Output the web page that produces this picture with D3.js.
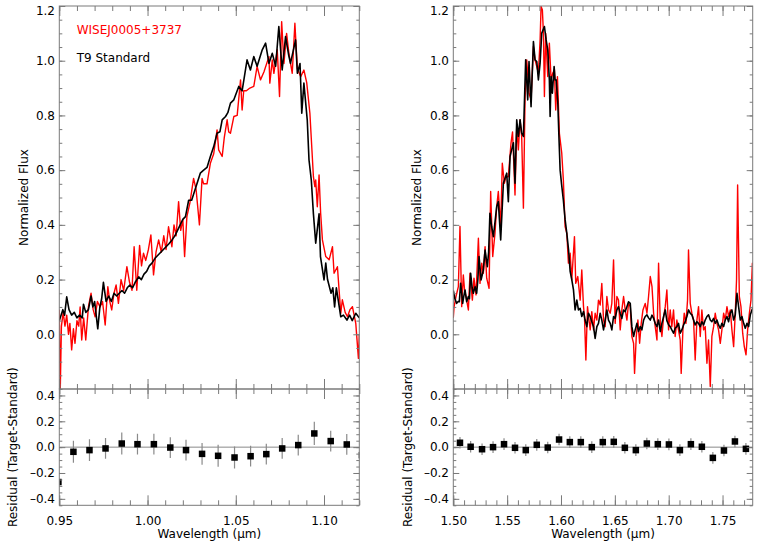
<!DOCTYPE html>
<html>
<head>
<meta charset="utf-8">
<script src="https://cdn.jsdelivr.net/npm/d3@7"></script>
<style>
  body { margin: 0; background: #fff; }
</style>
</head>
<body>
<svg id="chart" width="761" height="548"></svg>
<script>
// Spectra: [wavelength (micron), normalized flux]
const leftTarget = [[0.9500,0.09],[0.9505,-0.22],[0.9512,0.03],[0.9522,0.08],[0.9532,0.03],[0.9542,0.07],[0.9552,0.00],[0.9560,0.04],[0.9570,-0.057],[0.9580,0.02],[0.9589,-0.033],[0.9600,0.05],[0.9610,0.03],[0.9618,0.10],[0.9627,-0.021],[0.9638,0.06],[0.9650,-0.021],[0.9665,0.10],[0.9680,0.15],[0.9692,0.09],[0.9703,0.064],[0.9716,0.12],[0.9731,0.10],[0.9745,0.12],[0.9760,0.034],[0.9775,0.174],[0.9786,0.12],[0.9797,0.089],[0.9810,0.15],[0.9822,0.18],[0.9835,0.113],[0.9850,0.20],[0.9865,0.16],[0.9883,0.247],[0.9898,0.19],[0.9912,0.161],[0.9924,0.32],[0.9939,0.161],[0.9955,0.325],[0.9966,0.25],[0.9977,0.296],[0.9990,0.27],[1.0005,0.31],[1.0019,0.363],[1.0034,0.217],[1.0048,0.30],[1.0063,0.345],[1.0078,0.30],[1.0092,0.36],[1.0105,0.31],[1.0119,0.393],[1.0138,0.32],[1.0150,0.40],[1.0162,0.36],[1.0176,0.485],[1.0188,0.38],[1.0200,0.42],[1.0210,0.284],[1.0223,0.43],[1.0240,0.48],[1.0261,0.57],[1.0275,0.53],[1.0294,0.40],[1.0309,0.57],[1.0318,0.55],[1.0337,0.55],[1.0356,0.625],[1.0375,0.66],[1.0394,0.747],[1.0403,0.674],[1.0423,0.65],[1.0435,0.72],[1.0451,0.784],[1.0460,0.74],[1.0470,0.735],[1.0489,0.796],[1.0508,0.80],[1.0527,0.93],[1.0536,0.82],[1.0545,0.89],[1.0560,0.89],[1.0580,0.90],[1.0602,0.906],[1.0621,0.979],[1.0640,0.93],[1.0660,0.96],[1.0688,1.015],[1.0693,0.918],[1.0707,1.003],[1.0716,0.954],[1.0735,1.04],[1.0748,0.869],[1.0760,1.143],[1.0773,0.99],[1.0788,1.10],[1.0801,1.027],[1.0820,0.954],[1.0835,1.137],[1.0849,0.97],[1.0868,0.942],[1.0886,0.966],[1.0902,0.92],[1.0920,0.808],[1.0940,0.576],[1.0948,0.54],[1.0953,0.564],[1.0962,0.466],[1.0972,0.582],[1.0981,0.442],[1.0991,0.345],[1.1010,0.284],[1.1029,0.272],[1.1048,0.32],[1.1057,0.223],[1.1076,0.247],[1.1095,0.077],[1.1104,0.126],[1.1120,0.08],[1.1133,0.064],[1.1147,0.09],[1.1161,0.101],[1.1180,0.04],[1.1195,-0.088],[1.1200,0.00]];

const leftStandard = [[0.9500,0.05],[0.9510,0.07],[0.9520,0.09],[0.9530,0.07],[0.9542,0.137],[0.9555,0.09],[0.9570,0.07],[0.9585,0.08],[0.9600,0.06],[0.9615,0.07],[0.9630,0.06],[0.9637,0.11],[0.9650,0.08],[0.9665,0.09],[0.9680,0.14],[0.9690,0.10],[0.9700,0.12],[0.9718,0.02],[0.9730,0.10],[0.9740,0.13],[0.9750,0.19],[0.9765,0.12],[0.9780,0.14],[0.9795,0.12],[0.9810,0.15],[0.9825,0.14],[0.9840,0.15],[0.9855,0.16],[0.9870,0.15],[0.9885,0.17],[0.9900,0.18],[0.9915,0.17],[0.9930,0.19],[0.9950,0.21],[0.9965,0.20],[0.9980,0.22],[0.9995,0.23],[1.0010,0.25],[1.0025,0.26],[1.0045,0.28],[1.0060,0.29],[1.0075,0.30],[1.0090,0.31],[1.0105,0.32],[1.0120,0.33],[1.0139,0.345],[1.0155,0.36],[1.0170,0.38],[1.0185,0.40],[1.0200,0.42],[1.0215,0.43],[1.0233,0.49],[1.0250,0.49],[1.0265,0.52],[1.0280,0.55],[1.0299,0.589],[1.0318,0.60],[1.0337,0.61],[1.0356,0.65],[1.0375,0.686],[1.0394,0.735],[1.0410,0.74],[1.0423,0.784],[1.0442,0.796],[1.0455,0.81],[1.0470,0.845],[1.0489,0.857],[1.0517,0.906],[1.0536,0.89],[1.0564,1.003],[1.0583,0.966],[1.0602,1.015],[1.0621,0.98],[1.0650,1.04],[1.0669,1.064],[1.0688,0.99],[1.0707,1.027],[1.0726,0.98],[1.0744,1.125],[1.0763,0.966],[1.0782,1.088],[1.0800,1.02],[1.0810,0.99],[1.0839,1.076],[1.0849,0.954],[1.0864,0.99],[1.0874,0.808],[1.0886,0.918],[1.0905,0.784],[1.0915,0.637],[1.0928,0.564],[1.0940,0.44],[1.0953,0.333],[1.0972,0.44],[1.0980,0.284],[1.1000,0.199],[1.1010,0.26],[1.1020,0.20],[1.1040,0.15],[1.1050,0.17],[1.1060,0.10],[1.1070,0.17],[1.1095,0.064],[1.1110,0.07],[1.1130,0.052],[1.1145,0.07],[1.1160,0.05],[1.1180,0.077],[1.1200,0.06]];

const rightTarget = [[1.5000,0.06],[1.5007,0.10],[1.5025,0.138],[1.5047,0.174],[1.5062,0.394],[1.5078,0.101],[1.5093,0.217],[1.5105,0.16],[1.5118,0.138],[1.5140,0.089],[1.5155,0.223],[1.5177,0.125],[1.5192,0.205],[1.5211,0.144],[1.5233,0.351],[1.5248,0.186],[1.5264,0.26],[1.5279,0.223],[1.5295,0.32],[1.5310,0.205],[1.5332,0.168],[1.5347,0.522],[1.5366,0.284],[1.5387,0.369],[1.5403,0.467],[1.5418,0.522],[1.5440,0.394],[1.5455,0.625],[1.5474,0.552],[1.5489,0.576],[1.5511,0.576],[1.5536,0.70],[1.5550,0.74],[1.5573,0.509],[1.5589,0.759],[1.5604,0.674],[1.5620,0.784],[1.5635,0.722],[1.5651,0.461],[1.5666,0.857],[1.5682,1.003],[1.5703,0.881],[1.5722,0.857],[1.5744,1.052],[1.5759,1.003],[1.5775,0.979],[1.5790,0.954],[1.5806,1.076],[1.5815,1.198],[1.5827,1.186],[1.5837,1.10],[1.5846,0.869],[1.5858,1.10],[1.5877,0.942],[1.5892,1.064],[1.5908,0.93],[1.5923,0.954],[1.5939,0.967],[1.5951,0.82],[1.5967,0.942],[1.5985,0.735],[1.6007,0.662],[1.6022,0.564],[1.6038,0.394],[1.6054,0.369],[1.6069,0.26],[1.6085,0.296],[1.6100,0.199],[1.6125,0.357],[1.6137,0.186],[1.6156,0.211],[1.6178,0.125],[1.6193,0.235],[1.6209,0.101],[1.6218,0.065],[1.6231,-0.094],[1.6246,0.101],[1.6256,0.065],[1.6271,0.016],[1.6286,0.083],[1.6302,0.016],[1.6317,0.077],[1.6333,0.052],[1.6348,0.125],[1.6364,0.107],[1.6379,0.186],[1.6395,0.052],[1.6410,0.028],[1.6426,0.138],[1.6441,0.089],[1.6457,0.077],[1.6472,0.113],[1.6488,0.272],[1.6503,0.04],[1.6519,0.138],[1.6534,0.125],[1.6550,0.016],[1.6565,0.089],[1.6581,0.138],[1.6596,0.09],[1.6612,0.052],[1.6627,0.113],[1.6643,0.101],[1.6658,-0.008],[1.6674,-0.033],[1.6683,-0.143],[1.6699,-0.008],[1.6714,0.052],[1.6730,-0.033],[1.6745,0.04],[1.6761,0.089],[1.6782,0.113],[1.6798,0.077],[1.6813,0.138],[1.6829,0.211],[1.6845,0.174],[1.6860,0.077],[1.6875,0.028],[1.6891,-0.021],[1.6906,0.26],[1.6922,0.04],[1.6937,-0.008],[1.6953,0.065],[1.6968,0.101],[1.6983,0.162],[1.6999,0.016],[1.7014,0.089],[1.7029,0.028],[1.7045,0.089],[1.7060,-0.008],[1.7076,0.052],[1.7091,0.016],[1.7107,-0.021],[1.7116,-0.143],[1.7132,0.016],[1.7144,0.077],[1.7160,0.04],[1.7175,0.125],[1.7184,0.308],[1.7200,0.113],[1.7215,0.077],[1.7231,0.052],[1.7246,-0.094],[1.7262,0.052],[1.7277,0.101],[1.7293,-0.008],[1.7308,0.089],[1.7324,0.016],[1.7339,0.028],[1.7355,-0.106],[1.7370,-0.021],[1.7386,-0.191],[1.7401,-0.008],[1.7417,0.028],[1.7432,0.077],[1.7448,0.04],[1.7463,0.016],[1.7479,-0.033],[1.7494,0.016],[1.7510,0.077],[1.7525,0.052],[1.7541,0.101],[1.7556,0.065],[1.7572,0.089],[1.7587,0.016],[1.7603,-0.045],[1.7618,0.077],[1.7630,0.20],[1.7640,0.546],[1.7656,0.138],[1.7671,0.101],[1.7687,0.004],[1.7702,-0.045],[1.7718,-0.075],[1.7733,0.016],[1.7749,0.077],[1.7764,0.125],[1.7777,0.26],[1.7789,0.113]];

const rightStandard = [[1.5000,0.16],[1.5015,0.13],[1.5031,0.113],[1.5045,0.12],[1.5056,0.119],[1.5068,0.186],[1.5078,0.15],[1.5087,0.113],[1.5098,0.14],[1.5109,0.162],[1.5124,0.119],[1.5140,0.138],[1.5150,0.13],[1.5161,0.223],[1.5175,0.17],[1.5186,0.150],[1.5202,0.174],[1.5217,0.150],[1.5228,0.20],[1.5239,0.284],[1.5258,0.199],[1.5279,0.235],[1.5295,0.308],[1.5316,0.247],[1.5328,0.30],[1.5340,0.442],[1.5356,0.394],[1.5372,0.357],[1.5390,0.42],[1.5403,0.467],[1.5418,0.485],[1.5440,0.345],[1.5465,0.552],[1.5480,0.57],[1.5496,0.589],[1.5511,0.485],[1.5527,0.65],[1.5542,0.674],[1.5558,0.70],[1.5573,0.552],[1.5589,0.784],[1.5604,0.723],[1.5620,0.784],[1.5635,0.735],[1.5651,0.723],[1.5672,1.003],[1.5691,0.857],[1.5703,0.997],[1.5722,0.832],[1.5744,1.07],[1.5759,1.003],[1.5775,0.997],[1.5790,0.93],[1.5806,0.991],[1.5821,1.10],[1.5846,1.125],[1.5862,1.076],[1.5877,1.04],[1.5892,0.93],[1.5899,0.796],[1.5908,0.942],[1.5920,0.881],[1.5936,0.979],[1.5945,0.93],[1.5955,0.93],[1.5970,0.85],[1.5980,0.73],[1.5992,0.60],[1.6005,0.55],[1.6022,0.49],[1.6038,0.42],[1.6054,0.369],[1.6070,0.31],[1.6085,0.23],[1.6100,0.20],[1.6116,0.162],[1.6131,0.089],[1.6147,0.125],[1.6162,0.089],[1.6178,0.095],[1.6193,0.065],[1.6209,0.083],[1.6224,0.052],[1.6240,0.028],[1.6255,0.077],[1.6271,0.065],[1.6286,0.046],[1.6302,0.028],[1.6317,-0.015],[1.6333,0.028],[1.6348,0.04],[1.6364,0.077],[1.6379,0.052],[1.6395,0.016],[1.6410,0.052],[1.6426,0.089],[1.6441,0.052],[1.6457,0.04],[1.6472,0.016],[1.6488,0.065],[1.6503,0.058],[1.6519,0.089],[1.6534,0.101],[1.6550,0.077],[1.6565,0.058],[1.6581,0.089],[1.6596,0.083],[1.6612,0.101],[1.6627,0.119],[1.6643,0.113],[1.6658,0.028],[1.6674,-0.008],[1.6689,0.016],[1.6705,0.04],[1.6720,0.01],[1.6736,0.028],[1.6751,0.016],[1.6767,0.052],[1.6782,0.065],[1.6798,0.071],[1.6813,0.06],[1.6829,0.052],[1.6845,0.07],[1.6860,0.058],[1.6875,0.04],[1.6891,0.028],[1.6906,0.052],[1.6922,0.01],[1.6937,0.04],[1.6953,0.065],[1.6968,0.089],[1.6983,0.05],[1.6999,0.035],[1.7014,0.028],[1.7029,0.016],[1.7045,0.004],[1.7060,0.022],[1.7076,0.028],[1.7091,0.04],[1.7107,0.004],[1.7122,0.016],[1.7138,0.034],[1.7153,0.046],[1.7169,0.065],[1.7184,0.089],[1.7200,0.077],[1.7215,0.071],[1.7231,0.052],[1.7246,0.034],[1.7262,0.046],[1.7277,0.04],[1.7293,0.028],[1.7308,0.046],[1.7324,0.034],[1.7339,0.052],[1.7355,0.065],[1.7370,0.071],[1.7386,0.052],[1.7401,0.046],[1.7417,0.058],[1.7432,0.04],[1.7448,0.052],[1.7463,0.034],[1.7479,0.022],[1.7494,0.04],[1.7510,0.028],[1.7525,0.052],[1.7541,0.065],[1.7556,0.046],[1.7572,0.077],[1.7587,0.089],[1.7603,0.052],[1.7618,0.071],[1.7634,0.15],[1.7649,0.101],[1.7665,0.052],[1.7680,0.065],[1.7696,0.04],[1.7711,0.022],[1.7727,0.04],[1.7742,0.028],[1.7758,0.071],[1.7773,0.089],[1.7789,0.101]];

// Binned residuals (target - standard) with their uncertainties
const leftResWave = [0.9495,0.9580,0.9671,0.9762,0.9854,0.9943,1.0036,1.0129,1.0218,1.0309,1.0400,1.0493,1.0584,1.0673,1.0763,1.0854,1.0945,1.1038,1.1129,1.1215];
const leftResVal  = [-0.27,-0.036,-0.023,-0.010,0.028,0.023,0.023,-0.003,-0.023,-0.052,-0.067,-0.080,-0.070,-0.054,-0.010,0.016,0.106,0.047,0.021,-0.062];
const leftResErr  = [0.08,0.085,0.085,0.08,0.085,0.08,0.08,0.08,0.08,0.085,0.085,0.085,0.08,0.08,0.08,0.08,0.09,0.08,0.08,0.08];

const rightResWave = [1.5062,1.5161,1.5267,1.5369,1.5471,1.5573,1.5673,1.5775,1.5877,1.5982,1.6082,1.6184,1.6286,1.6388,1.6490,1.6593,1.6695,1.6797,1.6899,1.7002,1.7104,1.7206,1.7308,1.7410,1.7513,1.7615,1.7717];
const rightResVal  = [0.034,0.003,-0.016,0.000,0.023,-0.005,-0.023,0.018,-0.003,0.059,0.039,0.039,0.000,0.039,0.041,-0.005,-0.023,0.028,0.023,0.021,-0.023,0.023,0.003,-0.083,-0.026,0.044,-0.013];
const rightResErr  = [0.045,0.045,0.045,0.045,0.045,0.045,0.045,0.045,0.045,0.045,0.045,0.045,0.045,0.045,0.045,0.045,0.045,0.045,0.045,0.045,0.045,0.045,0.045,0.045,0.045,0.045,0.045];

// Tick labels
const leftWaveTicks  = [0.95, 1.00, 1.05, 1.10];
const rightWaveTicks = [1.50, 1.55, 1.60, 1.65, 1.70, 1.75];
const fluxTicks      = [0.0, 0.2, 0.4, 0.6, 0.8, 1.0, 1.2];
const residualTicks  = [-0.4, -0.2, 0.0, 0.2, 0.4];

const legendLabels = ['WISEJ0005+3737', 'T9 Standard'];

const font = '"DejaVu Sans", sans-serif';
const frameColor = '#7a7a7a';
const svg = d3.select('#chart');

// vertical layout shared by both panels
const topY = d3.scaleLinear().domain([-0.2, 1.2]).range([389, 6]);
const botY = d3.scaleLinear().domain([-0.45, 0.45]).range([505.3, 389]);

const fmtMinus = f => d => f(d).replace('\u2212', '\u2013');

const styleAxis = a => a
  .attr('font-family', font)
  .attr('font-size', 12)
  .call(g => g.select('.domain').remove())
  .call(g => g.selectAll('line').attr('stroke', frameColor))
  .call(g => g.selectAll('text').attr('fill', '#000'));

const addAxis = (axis, tx, ty) =>
  svg.append('g')
    .attr('transform', `translate(${tx},${ty})`)
    .call(axis)
    .call(styleAxis);

const minorRange = (a, b, s) => d3.range(Math.round(a / s), Math.round(b / s) + 1).map(i => +(i * s).toFixed(3));

const drawPanel = (p, idx) => {
  const x = d3.scaleLinear().domain(p.domain).range([p.left, p.right]);
  const [x0, x1] = x.range();
  const w = x1 - x0;

  // clip areas
  const defs = svg.append('defs');
  defs.append('clipPath').attr('id', `ct${idx}`)
    .append('rect').attr('x', x0).attr('y', topY.range()[1]).attr('width', w).attr('height', topY.range()[0] - topY.range()[1]);
  defs.append('clipPath').attr('id', `cb${idx}`)
    .append('rect').attr('x', x0).attr('y', botY.range()[1]).attr('width', w).attr('height', botY.range()[0] - botY.range()[1]);

  const line = d3.line().x(d => x(d[0])).y(d => topY(d[1]));

  const spec = svg.append('g').attr('clip-path', `url(#ct${idx})`);
  spec.append('path').datum(p.target)
    .attr('d', line).attr('fill', 'none').attr('stroke', '#ff0000').attr('stroke-width', 1.4).attr('stroke-linejoin', 'round');
  spec.append('path').datum(p.standard)
    .attr('d', line).attr('fill', 'none').attr('stroke', '#000').attr('stroke-width', 1.6).attr('stroke-linejoin', 'round');

  // residual panel
  const res = svg.append('g').attr('clip-path', `url(#cb${idx})`);
  res.append('line')
    .attr('x1', x0).attr('x2', x1).attr('y1', botY(0)).attr('y2', botY(0))
    .attr('stroke', '#8a8a8a').attr('stroke-width', 1);

  const pts = p.resWave.map((wv, i) => ({ w: wv, v: p.resVal[i], e: p.resErr[i] }));
  res.selectAll('line.err').data(pts).enter()
    .append('line').attr('class', 'err')
    .attr('x1', d => x(d.w)).attr('x2', d => x(d.w))
    .attr('y1', d => botY(d.v - d.e)).attr('y2', d => botY(d.v + d.e))
    .attr('stroke', '#8a8a8a').attr('stroke-width', 1.2);
  const s = 6.5;
  res.selectAll('rect.pt').data(pts).enter()
    .append('rect').attr('class', 'pt')
    .attr('x', d => x(d.w) - s / 2).attr('y', d => botY(d.v) - s / 2)
    .attr('width', s).attr('height', s).attr('fill', '#000');

  // frames
  [topY, botY].forEach(y => {
    svg.append('rect')
      .attr('x', x0).attr('y', y.range()[1]).attr('width', w).attr('height', y.range()[0] - y.range()[1])
      .attr('fill', 'none').attr('stroke', frameColor).attr('stroke-width', 1);
  });

  const xMinor = minorRange(p.domain[0], p.domain[1], 0.01).filter(v => v >= p.domain[0] && v <= p.domain[1]);
  const blank = () => '';

  // x ticks on every horizontal edge
  [[topY, false], [botY, true]].forEach(([y, labels]) => {
    const yT = y.range()[1], yB = y.range()[0];
    addAxis(d3.axisTop(x).tickValues(p.major).tickSize(-10).tickFormat(blank), 0, yT);
    addAxis(d3.axisTop(x).tickValues(xMinor).tickSize(-5).tickFormat(blank), 0, yT);
    addAxis(d3.axisBottom(x).tickValues(xMinor).tickSize(-5).tickFormat(blank), 0, yB);
    addAxis(d3.axisBottom(x).tickValues(p.major).tickSize(-10).tickPadding(11.2)
      .tickFormat(labels ? d3.format('.2f') : blank), 0, yB);
  });

  // y ticks, both sides
  const yAxes = [
    [topY, fluxTicks, minorRange(-0.2, 1.2, 0.05)],
    [botY, residualTicks, minorRange(-0.45, 0.45, 0.05)]
  ];
  yAxes.forEach(([y, major, minor]) => {
    const g = addAxis(d3.axisLeft(y).tickValues(major).tickSize(-6).tickPadding(4.3)
      .tickFormat(fmtMinus(d3.format('.1f'))), x0, 0);
    g.selectAll('.tick text').filter(d => y(d) - y.range()[1] < 4).attr('dy', '0.7em');
    addAxis(d3.axisLeft(y).tickValues(minor).tickSize(-3).tickFormat(blank), x0, 0);
    addAxis(d3.axisRight(y).tickValues(major).tickSize(-6).tickFormat(blank), x1, 0);
    addAxis(d3.axisRight(y).tickValues(minor).tickSize(-3).tickFormat(blank), x1, 0);
  });

  // axis titles
  const title = (txt, tx, ty, rot) => svg.append('text')
    .attr('transform', `translate(${tx},${ty})` + (rot ? ' rotate(-90)' : ''))
    .attr('text-anchor', 'middle').attr('dominant-baseline', 'central')
    .attr('font-family', font).attr('font-size', 12).attr('fill', '#000')
    .text(txt);
  title('Normalized Flux', p.fluxTitleX, (topY.range()[0] + topY.range()[1]) / 2, true);
  title('Residual (Target-Standard)', p.resTitleX, (botY.range()[0] + botY.range()[1]) / 2, true);
  title('Wavelength (\u03bcm)', (x0 + x1) / 2, 533.5, false);
};

const panels = [
  { domain: [0.95, 1.12], left: 59.3, right: 359.3, major: leftWaveTicks,
    target: leftTarget, standard: leftStandard,
    resWave: leftResWave, resVal: leftResVal, resErr: leftResErr,
    fluxTitleX: 24, resTitleX: 12.5 },
  { domain: [1.50, 1.778], left: 453.3, right: 752.7, major: rightWaveTicks,
    target: rightTarget, standard: rightStandard,
    resWave: rightResWave, resVal: rightResVal, resErr: rightResErr,
    fluxTitleX: 416.7, resTitleX: 407.5 }
];

panels.forEach(drawPanel);

// legend
svg.selectAll('text.legend').data(legendLabels).enter()
  .append('text').attr('class', 'legend')
  .attr('x', 76.7)
  .attr('y', (d, i) => 33.7 + i * 28)
  .attr('font-family', font).attr('font-size', 12)
  .attr('fill', (d, i) => i === 0 ? '#ff0000' : '#000')
  .text(d => d);
</script>
</body>
</html>
